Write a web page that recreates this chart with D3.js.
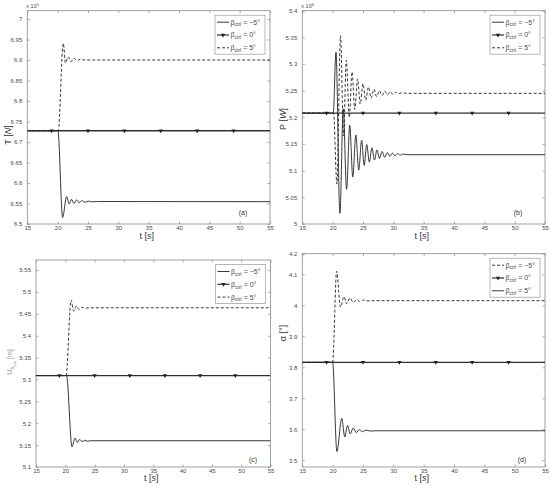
<!DOCTYPE html>
<html><head><meta charset="utf-8">
<script src="https://cdn.jsdelivr.net/npm/d3@7"></script>
<style>body{margin:0;background:#fff}svg{display:block;font-family:"Liberation Sans",Arial,sans-serif}</style>
</head><body><svg id="c" width="550" height="486"></svg>
<script>
// ---------- data ----------
const timeTicks = [15, 20, 25, 30, 35, 40, 45, 50, 55];
const markerTimes = [19, 25, 31, 37, 43, 49];

// (a) rotor thrust, x 10^5 N
const thrustTicks = [6.5, 6.55, 6.6, 6.65, 6.7, 6.75, 6.8, 6.85, 6.9, 6.95, 7];
const thrustZero = [[15, 6.7275], [55, 6.7275]];
const thrustNeg5 = [[15, 6.7275], [20.05, 6.7275], [20.82, 6.516], [21.48, 6.567], [21.9, 6.549], [22.3, 6.56], [22.7, 6.55], [23.1, 6.5585], [23.55, 6.552], [24.0, 6.557], [24.5, 6.553], [25.05, 6.556], [25.6, 6.554], [26.4, 6.5548], [55, 6.5545]];
const thrustPos5 = [[15, 6.7275], [20.1, 6.7275], [20.93, 6.9407], [21.3, 6.893], [21.75, 6.908], [22.2, 6.896], [22.7, 6.904], [23.25, 6.898], [23.8, 6.9025], [24.3, 6.9], [55, 6.9]];

// (b) power, x 10^6 W
const powerTicks = [5, 5.05, 5.1, 5.15, 5.2, 5.25, 5.3, 5.35, 5.4];
const powerZero = [[15, 5.208], [55, 5.208]];
const powerNeg5 = [[15, 5.208], [20.1, 5.208], [20.55, 5.322], [21.2, 5.02], [21.75, 5.216], [22.3, 5.065], [22.82, 5.185], [23.32, 5.088], [23.82, 5.167], [24.3, 5.101], [24.78, 5.157], [25.2, 5.11], [25.62, 5.149], [26.05, 5.116], [26.47, 5.143], [26.9, 5.12], [27.3, 5.139], [27.72, 5.123], [28.15, 5.136], [28.57, 5.125], [29.0, 5.134], [29.42, 5.127], [29.85, 5.133], [30.27, 5.128], [30.7, 5.132], [31.12, 5.129], [31.55, 5.131], [32.4, 5.13], [55, 5.13]];
const powerPos5 = [[15, 5.208], [20.15, 5.208], [20.7, 5.075], [21.3, 5.353], [21.8, 5.165], [22.25, 5.307], [22.75, 5.2], [23.2, 5.285], [23.65, 5.215], [24.1, 5.272], [24.55, 5.225], [25.0, 5.263], [25.45, 5.232], [25.9, 5.257], [26.35, 5.236], [26.8, 5.253], [27.25, 5.239], [27.7, 5.25], [28.15, 5.241], [28.6, 5.249], [29.05, 5.242], [29.5, 5.248], [29.95, 5.243], [30.4, 5.247], [30.85, 5.244], [31.3, 5.246], [32.2, 5.245], [55, 5.245]];

// (c) hub wind speed, m
const windTicks = [5.1, 5.15, 5.2, 5.25, 5.3, 5.35, 5.4, 5.45, 5.5, 5.55];
const windZero = [[15, 5.309], [55, 5.309]];
const windNeg5 = [[15, 5.309], [20.2, 5.309], [21.15, 5.146], [21.65, 5.166], [22.05, 5.156], [22.45, 5.163], [22.85, 5.158], [23.3, 5.161], [23.75, 5.159], [24.4, 5.16], [55, 5.16]];
const windPos5 = [[15, 5.309], [20.13, 5.309], [20.98, 5.481], [21.45, 5.456], [21.9, 5.468], [22.35, 5.46], [22.85, 5.465], [23.35, 5.463], [24.1, 5.4638], [55, 5.4638]];

// (d) angle of attack, deg
const alphaTicks = [3.5, 3.6, 3.7, 3.8, 3.9, 4, 4.1, 4.1667];
const alphaZero = [[15, 3.816], [55, 3.816]];
const alphaNeg5 = [[15, 3.816], [20.0, 3.816], [20.66, 4.11], [21.3, 3.994], [21.87, 4.028], [22.3, 4.005], [22.86, 4.024], [23.4, 4.009], [23.96, 4.019], [24.5, 4.012], [25.05, 4.017], [25.6, 4.014], [26.5, 4.015], [55, 4.015]];
const alphaPos5 = [[15, 3.816], [20.0, 3.816], [20.7, 3.528], [21.5, 3.635], [22.0, 3.575], [22.45, 3.612], [22.9, 3.585], [23.4, 3.604], [23.9, 3.589], [24.4, 3.599], [24.9, 3.592], [25.5, 3.597], [26.2, 3.594], [27.0, 3.595], [55, 3.595]];

const legendLabels = ["\u22125\u00b0", "0\u00b0", "5\u00b0"];

// ---------- drawing ----------
const svg = d3.select("#c");
const frameColor = "#8a8a8a", textColor = "#4a4a4a", lineColor = "#222";

const panels = [
  {box:{l:27.3, r:270, t:10.7, b:224}, domain:[6.5, 7.0203], ticks:thrustTicks, fmt:".3~g",
   series:[{d:thrustNeg5, s:"solid"}, {d:thrustZero, s:"marker"}, {d:thrustPos5, s:"dashed"}],
   legend:["solid","marker","dashed"], tag:"(a)", exp:"5",
   ylab:{x:11, y:135, parts:[["T [",""],["N","italic"],["]",""]]}, xlabY:238.5, tagPos:[243, 214.5]},
  {box:{l:302.3, r:545, t:10.7, b:224}, domain:[5.0, 5.4], ticks:powerTicks, fmt:".3~g",
   series:[{d:powerNeg5, s:"solid"}, {d:powerZero, s:"marker"}, {d:powerPos5, s:"dashed"}],
   legend:["solid","marker","dashed"], tag:"(b)", exp:"6",
   ylab:{x:286, y:119, parts:[["P [",""],["W","italic"],["]",""]]}, xlabY:238.5, tagPos:[518, 214.5]},
  {box:{l:36, r:270.5, t:260, b:467}, domain:[5.1, 5.573], ticks:windTicks, fmt:".3~g",
   series:[{d:windNeg5, s:"solid"}, {d:windZero, s:"marker"}, {d:windPos5, s:"dashed"}],
   legend:["solid","marker","dashed"], tag:"(c)", exp:null,
   ylab:null, xlabY:481, tagPos:[253, 461.5]},
  {box:{l:302.3, r:545, t:253.7, b:467}, domain:[3.478, 4.1667], ticks:alphaTicks, fmt:".2~g",
   series:[{d:alphaNeg5, s:"dashed"}, {d:alphaZero, s:"marker"}, {d:alphaPos5, s:"solid"}],
   legend:["dashed","marker","solid"], tag:"(d)", exp:null,
   ylab:{x:286, y:333, parts:[["\u03b1 [\u00b0]",""]]}, xlabY:481, tagPos:[522, 461.5]}
];

const tri = d3.symbol().type(d3.symbolTriangle).size(8);

panels.forEach((p, i) => {
  const B = p.box;
  const g = svg.append("g");
  const x = d3.scaleLinear().domain([15, 55]).range([B.l, B.r]);
  const y = d3.scaleLinear().domain(p.domain).range([B.b, B.t]);

  const styleAxis = sel => {
    sel.select(".domain").remove();
    sel.selectAll(".tick line").attr("stroke", frameColor).attr("stroke-width", 0.7);
    sel.selectAll("text").attr("fill", textColor).style("font-size", "6px")
      .style("font-family", '"Liberation Sans",Arial,sans-serif');
  };
  g.append("g").attr("transform", `translate(0,${B.b})`)
    .call(d3.axisBottom(x).tickValues(timeTicks).tickSizeInner(-2.5).tickSizeOuter(0).tickPadding(2.2).tickFormat(d3.format("d")))
    .call(styleAxis);
  g.append("g").attr("transform", `translate(0,${B.t})`)
    .call(d3.axisTop(x).tickValues(timeTicks).tickSizeInner(-2.5).tickSizeOuter(0).tickFormat(""))
    .call(styleAxis);
  g.append("g").attr("transform", `translate(${B.l},0)`)
    .call(d3.axisLeft(y).tickValues(p.ticks).tickSizeInner(-2.5).tickSizeOuter(0).tickPadding(5).tickFormat(d3.format(p.fmt)))
    .call(styleAxis);
  g.append("g").attr("transform", `translate(${B.r},0)`)
    .call(d3.axisRight(y).tickValues(p.ticks).tickSizeInner(-2.5).tickSizeOuter(0).tickFormat(""))
    .call(styleAxis);

  g.append("rect").attr("x", B.l).attr("y", B.t).attr("width", B.r - B.l).attr("height", B.b - B.t)
    .attr("fill", "none").attr("stroke", frameColor).attr("stroke-width", 0.8);

  const cid = "clip" + i;
  svg.append("clipPath").attr("id", cid).append("rect")
    .attr("x", B.l).attr("y", B.t).attr("width", B.r - B.l).attr("height", B.b - B.t);
  const plot = g.append("g").attr("clip-path", `url(#${cid})`);
  const line = d3.line().x(d => x(d[0])).y(d => y(d[1])).curve(d3.curveMonotoneX);

  p.series.forEach(s => {
    const path = plot.append("path").datum(s.d).attr("d", line).attr("fill", "none")
      .attr("stroke", s.s === "marker" ? "#303030" : lineColor)
      .attr("stroke-width", s.s === "marker" ? 1.3 : 0.9);
    if (s.s === "dashed") path.attr("stroke-dasharray", "3,2");
    if (s.s === "marker") {
      const yv = s.d[0][1];
      plot.selectAll(null).data(markerTimes).enter().append("path")
        .attr("d", tri).attr("fill", "#222")
        .attr("transform", t => `translate(${x(t)},${y(yv)}) rotate(180)`);
    }
  });

  // legend
  const lw = 50, lh = 39;
  const lx = B.r - 5 - lw, ly = B.t + 4.5;
  const lg = g.append("g");
  lg.append("rect").attr("x", lx).attr("y", ly).attr("width", lw).attr("height", lh)
    .attr("fill", "#fff").attr("stroke", "#9a9a9a").attr("stroke-width", 0.7);
  p.legend.forEach((st, k) => {
    const ry = ly + 7 + k * 12.8;
    const ln = lg.append("line").attr("x1", lx + 2).attr("x2", lx + 14).attr("y1", ry).attr("y2", ry)
      .attr("stroke", st === "marker" ? "#303030" : lineColor).attr("stroke-width", st === "marker" ? 1.2 : 0.9);
    if (st === "dashed") ln.attr("stroke-dasharray", "3,2");
    if (st === "marker") lg.append("path").attr("d", tri).attr("fill", "#222")
      .attr("transform", `translate(${lx + 8},${ry}) rotate(180)`);
    const tx = lg.append("text").attr("x", lx + 15.5).attr("y", ry + 2.4)
      .attr("fill", textColor).style("font-size", "7px");
    tx.append("tspan").text("\u03b2");
    tx.append("tspan").attr("dy", 1.8).style("font-size", "5px").text("ctrl");
    tx.append("tspan").attr("dy", -1.8).text(" = " + legendLabels[k]);
  });

  // x label
  const xl = g.append("text").attr("x", (B.l + B.r) / 2 - 2).attr("y", p.xlabY).attr("text-anchor", "middle")
    .attr("fill", "#333").style("font-size", "9px");
  xl.append("tspan").text("t [");
  xl.append("tspan").style("font-style", "italic").text("s");
  xl.append("tspan").text("]");

  // y label
  if (p.ylab) {
    const yl = g.append("text").attr("transform", `translate(${p.ylab.x},${p.ylab.y}) rotate(-90)`)
      .attr("text-anchor", "middle").attr("fill", "#333").style("font-size", "9px");
    p.ylab.parts.forEach(pt => yl.append("tspan").style("font-style", pt[1] || "normal").text(pt[0]));
  } else {
    const yl = g.append("text").attr("transform", `translate(12,362) rotate(-90)`)
      .attr("text-anchor", "middle").attr("fill", "#9a9a9a").style("font-size", "7px");
    yl.append("tspan").text("U");
    yl.append("tspan").attr("dy", 2).style("font-size", "5px").text("h");
    yl.append("tspan").attr("dy", 1.5).style("font-size", "3.5px").text("hub");
    yl.append("tspan").attr("dy", -3.5).text("    [m]");
  }

  // exponent
  if (p.exp) {
    const ex = g.append("text").attr("x", B.l - 1).attr("y", B.t - 2.5).attr("fill", textColor).style("font-size", "5.5px");
    ex.append("tspan").text("x 10");
    ex.append("tspan").attr("dy", -2.5).style("font-size", "4px").text(p.exp);
  }

  // panel tag
  g.append("text").attr("x", p.tagPos[0]).attr("y", p.tagPos[1]).attr("text-anchor", "middle")
    .attr("fill", "#333").style("font-size", "7px").text(p.tag);
});
</script></body></html>
